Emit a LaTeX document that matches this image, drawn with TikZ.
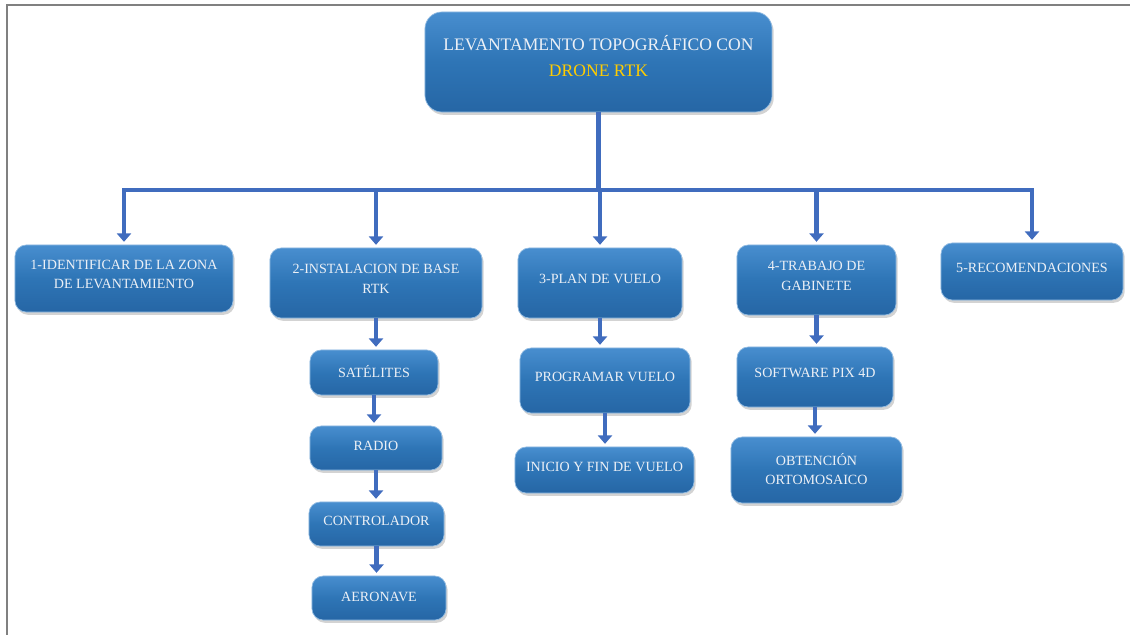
\documentclass[tikz,border=0pt]{standalone}
\usepackage{fontspec}
\setmainfont{Liberation Serif}
\usetikzlibrary{arrows.meta,shadows}
\definecolor{boxtop}{RGB}{72,142,207}
\definecolor{boxmid}{RGB}{46,117,182}
\definecolor{boxbot}{RGB}{38,102,165}
\definecolor{linkblue}{RGB}{64,108,190}
\definecolor{boxtext}{RGB}{236,240,246}
\definecolor{dronegold}{RGB}{255,204,0}
\definecolor{framegray}{RGB}{128,128,128}
\begin{document}
\begin{tikzpicture}[x=0.025cm,y=-0.025cm,
  box/.style={rounded corners=8pt, top color=boxtop, bottom color=boxbot, middle color=boxmid, draw=boxtop!60!white, line width=0.5pt,
    text=boxtext, align=center, font=\fontsize{10}{14}\selectfont, text depth=0.2cm,
    drop shadow={opacity=0.35,shadow xshift=1.2pt,shadow yshift=-2pt}},
  link/.style={line width=3pt, draw=linkblue},
  arr/.style={link, shorten >=2pt, -{Triangle[width=10pt,length=6pt]}}]
\useasboundingbox (0,0) rectangle (1130,635);
\draw[framegray, line width=1.4pt] (7,635) -- (7,5) -- (1130,5);

\node[box, rounded corners=12pt, minimum width=8.675cm, minimum height=2.5cm, font=\fontsize{12.5}{19}\selectfont, text depth=0.3cm] (title) at (598.5,62) {LEVANTAMENTO TOPOGRÁFICO CON\\\textcolor{dronegold}{DRONE RTK}};

\node[box, minimum width=5.45cm, minimum height=1.675cm] (zona) at (124,278.5) {1-IDENTIFICAR DE LA ZONA\\DE LEVANTAMIENTO};
\node[box, minimum width=5.3cm, minimum height=1.75cm] (base) at (376,283) {2-INSTALACION DE BASE\\RTK};
\node[box, minimum width=4.1cm, minimum height=1.75cm] (plan) at (600,283) {3-PLAN DE VUELO};
\node[box, minimum width=3.975cm, minimum height=1.75cm] (gabinete) at (816.5,280) {4-TRABAJO DE\\GABINETE};
\node[box, minimum width=4.55cm, minimum height=1.425cm] (recom) at (1032,271.5) {5-RECOMENDACIONES};

\node[box, minimum width=3.2cm, minimum height=1.125cm, text depth=0.05cm] (sat) at (374,372.5) {SATÉLITES};
\node[box, minimum width=3.3cm, minimum height=1.1cm, text depth=0.1cm] (radio) at (376,448) {RADIO};
\node[box, minimum width=3.375cm, minimum height=1.1cm, text depth=0.15cm] (ctrl) at (376.5,524) {CONTROLADOR};
\node[box, minimum width=3.35cm, minimum height=1.1cm, text depth=0.05cm] (aero) at (379,598) {AERONAVE};

\node[box, minimum width=4.25cm, minimum height=1.625cm] (prog) at (605,380.5) {PROGRAMAR VUELO};
\node[box, minimum width=4.475cm, minimum height=1.15cm, text depth=0.15cm] (inicio) at (604.5,470) {INICIO Y FIN DE VUELO};

\node[box, minimum width=3.9cm, minimum height=1.5cm] (soft) at (815,377) {SOFTWARE PIX 4D};
\node[box, minimum width=4.275cm, minimum height=1.65cm, text depth=0.05cm] (orto) at (816.5,470) {OBTENCIÓN\\ORTOMOSAICO};

\coordinate (bar) at (597,190);
\draw[link] (title.south) -- (title.south |- bar);
\draw[link, line cap=rect] (zona |- bar) -- (recom |- bar);
\foreach \n in {zona,base,plan,gabinete,recom}
  \draw[arr] (\n |- bar) -- (\n.north);

\draw[arr] (base.south) -- (base.south |- sat.north);
\draw[arr] (sat.south) -- (sat.south |- radio.north);
\draw[arr] (radio.south) -- (radio.south |- ctrl.north);
\draw[arr] (ctrl.south) -- (ctrl.south |- aero.north);
\draw[arr] (plan.south) -- (plan.south |- prog.north);
\draw[arr] (prog.south) -- (prog.south |- inicio.north);
\draw[arr] (gabinete.south) -- (gabinete.south |- soft.north);
\draw[arr] (soft.south) -- (soft.south |- orto.north);
\end{tikzpicture}
\end{document}
